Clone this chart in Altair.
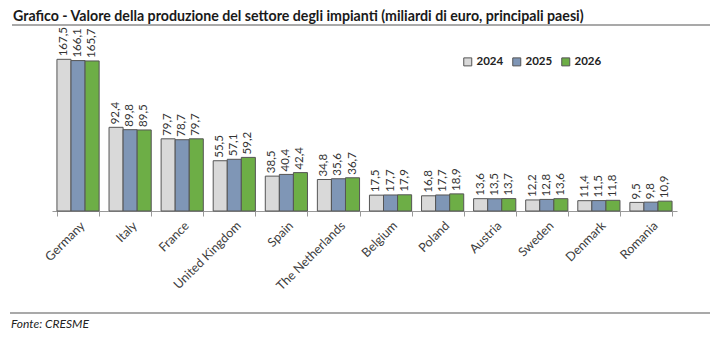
import altair as alt
import pandas as pd

countries = ["Germany", "Italy", "France", "United Kingdom", "Spain", "The Netherlands",
             "Belgium", "Poland", "Austria", "Sweden", "Denmark", "Romania"]
years = ["2024", "2025", "2026"]
v2024 = [167.5, 92.4, 79.7, 55.5, 38.5, 34.8, 17.5, 16.8, 13.6, 12.2, 11.4, 9.5]
v2025 = [166.1, 89.8, 78.7, 57.1, 40.4, 35.6, 17.7, 17.7, 13.5, 12.8, 11.5, 9.8]
v2026 = [165.7, 89.5, 79.7, 59.2, 42.4, 36.7, 17.9, 18.9, 13.7, 13.6, 11.8, 10.9]
colors = ["#D9D9D9", "#7F96B6", "#6DAE46"]
title_text = "Grafico - Valore della produzione del settore degli impianti (miliardi di euro, principali paesi)"
source_text = "Fonte: CRESME"

rows = []
for y, vals in zip(years, [v2024, v2025, v2026]):
    for c, v in zip(countries, vals):
        rows.append({"country": c, "year": y, "value": v,
                     "label": f"{v:.1f}".replace(".", ",")})
df = pd.DataFrame(rows)

FONT = "Lato"

x = alt.X("country:N", sort=countries, title=None,
          scale=alt.Scale(paddingInner=0.19, paddingOuter=0.095),
          axis=alt.Axis(labelAngle=-45, labelFontSize=12.5, labelColor="#404040",
                        labelFont=FONT, tickBand="extent", tickSize=5,
                        tickColor="#999", domainColor="#999", labelPadding=3))
y = alt.Y("value:Q", scale=alt.Scale(domain=[0, 180]), axis=None)
xo = alt.XOffset("year:N", sort=years)

bars = alt.Chart(df).mark_bar(stroke="#555", strokeWidth=1).encode(
    x=x, y=y, xOffset=xo,
    color=alt.Color("year:N", sort=years,
                    scale=alt.Scale(domain=years, range=colors),
                    legend=alt.Legend(title=None, orient="none", direction="horizontal",
                                      legendX=410, legendY=8, symbolType="square",
                                      symbolSize=64, symbolStrokeColor="#555",
                                      symbolStrokeWidth=1, labelFontSize=11.5,
                                      labelFontWeight="bold", labelFont=FONT,
                                      labelColor="#222", columnPadding=6, labelOffset=3))
)

labels = alt.Chart(df).mark_text(angle=270, align="left", baseline="middle", dx=3,
                                 fontSize=11.5, font=FONT, color="#333").encode(
    x=x, y=y, xOffset=xo, text="label:N"
)

title = alt.Chart(pd.DataFrame({"t": [title_text]})).mark_text(
    align="left", baseline="alphabetic", fontSize=14.2, fontWeight="bold", font=FONT,
    color="#1a1a1a").encode(x=alt.value(-39), y=alt.value(-27), text="t:N")

source = alt.Chart(pd.DataFrame({"t": [source_text]})).mark_text(
    align="left", baseline="alphabetic", fontSize=12, fontStyle="italic", font=FONT,
    color="#222").encode(x=alt.value(-41), y=alt.value(280), text="t:N")

line_top = alt.Chart(pd.DataFrame({"a": [0]})).mark_rule(color="#555", strokeWidth=1.2).encode(
    x=alt.value(-40), x2=alt.value(658), y=alt.value(-23))
line_bot = alt.Chart(pd.DataFrame({"a": [0]})).mark_rule(color="#555", strokeWidth=1.2).encode(
    x=alt.value(-42), x2=alt.value(658), y=alt.value(265))

chart = alt.layer(bars, labels, title, source, line_top, line_bot).properties(
    width=625, height=163,
    autosize=alt.AutoSizeParams(type="none"),
    padding={"left": 52, "top": 48, "right": 33, "bottom": 138},
    background="white"
).configure_view(stroke=None)

chart.save("out.html", embed_options={"renderer": "svg", "actions": False})
